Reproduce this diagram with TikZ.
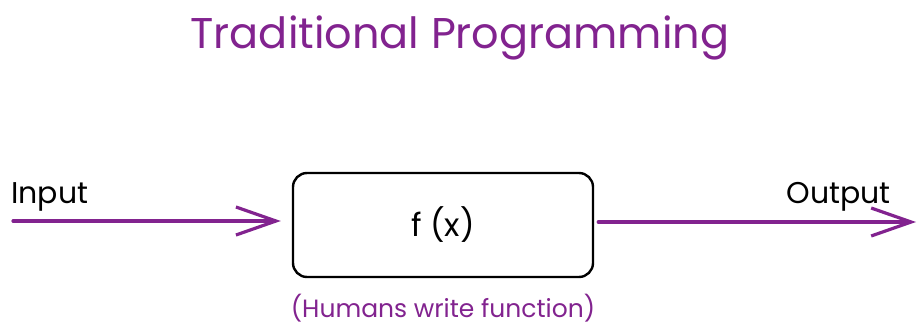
\documentclass[tikz,border=0pt]{standalone}
\usepackage{fontspec}
\setmainfont{Poppins}
\usepackage{tikz}
\usetikzlibrary{positioning,arrows.meta}

\definecolor{grape}{HTML}{82238F}

\begin{document}
\begin{tikzpicture}[x=1pt,y=-1pt,>={Straight Barb[length=40pt,width=28pt]},
	box/.style={draw=black,line width=2.4pt,rounded corners=14pt,minimum width=300pt,minimum height=104pt,inner sep=0pt},
	flow/.style={->,draw=grape,line width=3.2pt,line cap=round},
	lbl/.style={inner sep=0pt,font=\fontsize{30}{34}\selectfont},
	]
	\useasboundingbox (0,0) rectangle (920,324);

	\node[text=grape,font=\fontsize{43}{50}\selectfont] (title) at (460,38) {Traditional Programming};

	\node[box] (fx) at (443,225) {\fontsize{32}{36}\selectfont f (x)};
	\node[text=grape,below=12pt of fx,font=\fontsize{25}{30}\selectfont] (note) {(Humans write function)};

	\coordinate (in) at (13,221);
	\coordinate (out) at (916,222);
	\node[lbl,anchor=base west] (inlbl) at (11,203) {Input};
	\node[lbl,anchor=base east] (outlbl) at (891,203) {Output};

	\draw[flow,shorten >=11pt] (in) to[] (fx.west |- in);
	\draw[flow,shorten <=4pt] (fx.east |- out) to[] (out);

	\end{tikzpicture}
\end{document}
